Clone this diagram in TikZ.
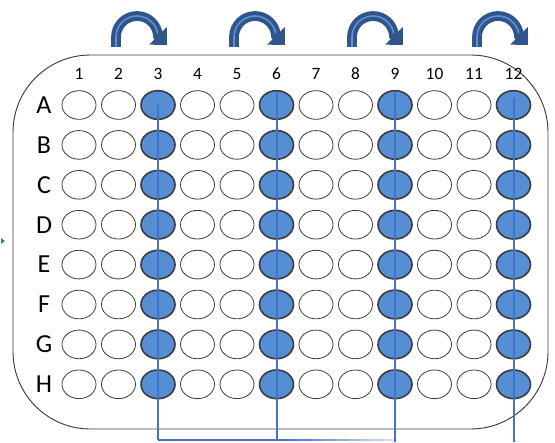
\documentclass[tikz,border=0pt]{standalone}
\usepackage{fontspec}
\setmainfont{Carlito}
\usetikzlibrary{arrows.meta,shapes.geometric,calc}
\definecolor{wellblue}{RGB}{85,142,213}
\definecolor{lineblue}{RGB}{68,114,196}
\definecolor{arrowdark}{RGB}{47,85,140}
\definecolor{arrowlight}{RGB}{95,145,205}
\definecolor{rim}{RGB}{60,60,60}
\begin{document}
\begin{tikzpicture}[x=0.75pt,y=-0.75pt,
  well/.style={ellipse, draw=rim, line width=0.6pt, fill=white, minimum width=25.5pt, minimum height=21.5pt, inner sep=0pt},
  filled/.style={well, fill=wellblue, draw=rim, line width=1.2pt},
  collabel/.style={font=\fontsize{13}{14}\selectfont, inner sep=0pt},
  rowlabel/.style={font=\fontsize{19.5}{20}\selectfont, inner sep=0pt},
  conn/.style={draw=lineblue, line width=1.5pt},
  curlarrow/.style={draw=arrowdark, line width=7.3pt, -{Triangle[width=18pt,length=9.5pt]}},
  curllight/.style={draw=arrowlight, line width=1.2pt}
]
\useasboundingbox (0,0) rectangle (555,442);
% plate
\draw[rim, line width=0.7pt, rounded corners=58] (13,55) rectangle (548,429);
% column labels
\foreach \c in {1,...,12} {
  \node[collabel] (c\c) at ({79+39.5*(\c-1)},74) {\c};
}
% rows and wells
\foreach \L [count=\r] in {A,B,C,D,E,F,G,H} {
  \node[rowlabel] (r\r) at (44,{105+39.9*(\r-1)}) {\L};
  \foreach \c in {1,...,12} {
    \pgfmathtruncatemacro\m{mod(\c,3)}
    \def\st{well}
    \ifnum\m=0 \def\st{filled}\fi
    \node[\st] (w-\r-\c) at ({79+39.5*(\c-1)},{105+39.9*(\r-1)}) {};
  }
}
% connector coordinates
\coordinate (s3) at (w-1-3.center);
\path (w-1-6.center) ++(0,-13) coordinate (s6);
\path (w-1-9.center) ++(0,-13) coordinate (s9);
\path (w-1-12.center) ++(0,-7) coordinate (s12);
\coordinate (b3) at (w-1-3.center |- 0,440);
\coordinate (b6) at (w-1-6.center |- 0,440);
\coordinate (b9) at (w-1-9.center |- 0,440);
\coordinate (e9) at (w-1-9.center |- 0,442);
\coordinate (e12) at (w-1-12.center |- 0,442);
\draw[conn] (s3) -- (b3);
\draw[conn] (s6) -- (b6);
\draw[conn] (s9) -- (e9);
\draw[conn] (s12) -- (e12);
\draw[conn] (b3) -- (b6);
\foreach \i in {0,...,9} {
  \pgfmathsetmacro\op{1-0.085*\i}
  \draw[conn, draw opacity=\op] ($(b6)!\i/10!(b9)$) -- ($(b6)!{(\i+1)/10}!(b9)$);
}
% curved arrows
\foreach \cx [count=\k] in {137,255,373,498} {
  \coordinate (a\k) at (\cx-21,47);
  \draw[curlarrow] (a\k) -- ++(0,-10) arc[start angle=180, end angle=357, radius=21] -- ++(9,9);
  \draw[curllight] (a\k) -- ++(0,-10) arc[start angle=180, end angle=350, radius=21];
}
% small mark at left
\coordinate (m) at (3,241);
\fill[lineblue] (m) ++(-2,-3) -- ++(4,3) -- ++(-4,3) -- cycle;
\end{tikzpicture}
\end{document}
